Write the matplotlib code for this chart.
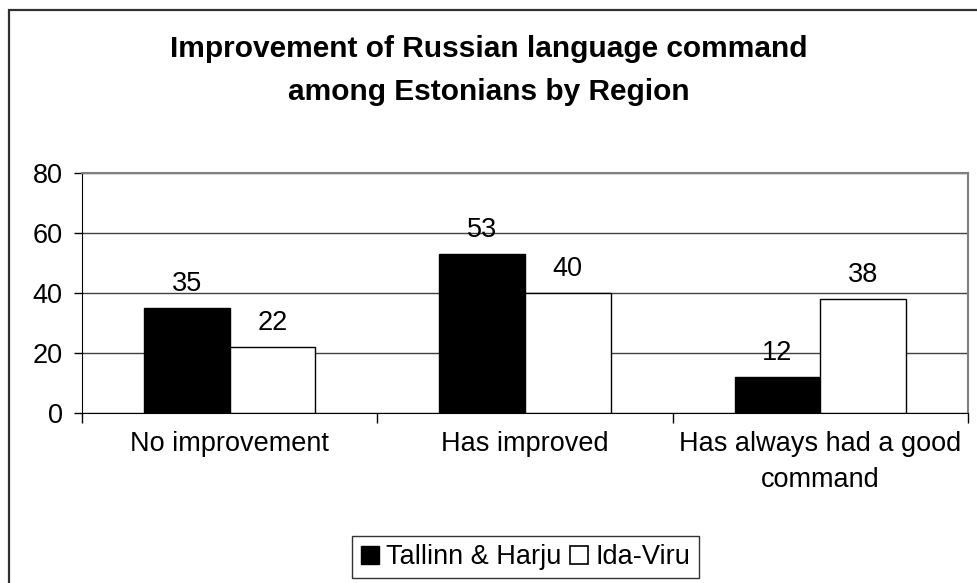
import matplotlib
matplotlib.use('Agg')
import matplotlib.pyplot as plt
import numpy as np
from matplotlib.patches import Rectangle
from matplotlib.lines import Line2D

plt.rcParams['font.family'] = ['Liberation Sans', 'DejaVu Sans']

categories = ['No improvement', 'Has improved', 'Has always had a good\ncommand']
tallinn = [35, 53, 12]
ida_viru = [22, 40, 38]
series_names = ['Tallinn & Harju', 'Ida-Viru']
yticks = [0, 20, 40, 60, 80]
title_lines = ['Improvement of Russian language command', 'among Estonians by Region']

FS = 19.5

fig = plt.figure(figsize=(9.78, 5.83), dpi=100)
ax = fig.add_axes([82 / 978, 1 - 413 / 583, 886 / 978, 240 / 583])

# outer chart frame (right and bottom run off the image)
fig.patches.append(Rectangle((9 / 978, -0.1), 1.2, 1 - 10 / 583 + 0.1,
                             transform=fig.transFigure, fill=False,
                             edgecolor='#303030', linewidth=1.6))

x = np.arange(len(categories))
w = 0.29
b1 = ax.bar(x - w / 2, tallinn, w, color='black', edgecolor='black', linewidth=1)
b2 = ax.bar(x + w / 2, ida_viru, w, color='white', edgecolor='black', linewidth=1)

for bars, vals in [(b1, tallinn), (b2, ida_viru)]:
    for r, v in zip(bars, vals):
        ax.annotate(str(v), (r.get_x() + r.get_width() / 2, v), xytext=(0, 12),
                    textcoords='offset points', ha='center', va='baseline', fontsize=FS)

ax.set_xlim(-0.5, 2.5)
ax.set_ylim(0, 80)
ax.set_yticks(yticks)
ax.tick_params(axis='y', labelsize=FS, direction='out', length=6, width=1, pad=8)
ax.yaxis.grid(True, color='#404040', linewidth=1)
ax.set_axisbelow(True)

ax.set_xticks(x)
ax.set_xticklabels(categories, fontsize=FS, linespacing=1.5)
ax.tick_params(axis='x', length=0, pad=13)
ax.set_xticks([-0.5, 0.5, 1.5, 2.5], minor=True)
ax.tick_params(axis='x', which='minor', length=7, direction='out', width=1)

for s in ['top', 'right']:
    ax.spines[s].set_color('#808080')
    ax.spines[s].set_linewidth(1.5)
ax.spines['left'].set_color('black')
ax.spines['bottom'].set_color('black')

fig.text(489 / 978, 1 - 57 / 583, title_lines[0], ha='center', va='baseline',
         fontsize=21.5, fontweight='bold')
fig.text(489 / 978, 1 - 100 / 583, title_lines[1], ha='center', va='baseline',
         fontsize=21.5, fontweight='bold')

handles = [Line2D([], [], marker='s', linestyle='none', markersize=13,
                  markerfacecolor='black', markeredgecolor='black'),
           Line2D([], [], marker='s', linestyle='none', markersize=12.5,
                  markerfacecolor='white', markeredgecolor='black', markeredgewidth=1.2)]
leg = fig.legend(handles, series_names, loc='center', bbox_to_anchor=(525.5 / 978, 1 - 557 / 583),
                 ncol=2, fontsize=FS, frameon=True, fancybox=False, edgecolor='black',
                 handlelength=0.7, handletextpad=0.25, columnspacing=0.3,
                 borderpad=0.3, borderaxespad=0)
leg.get_frame().set_linewidth(1)

fig.savefig('out.png', dpi=100)
